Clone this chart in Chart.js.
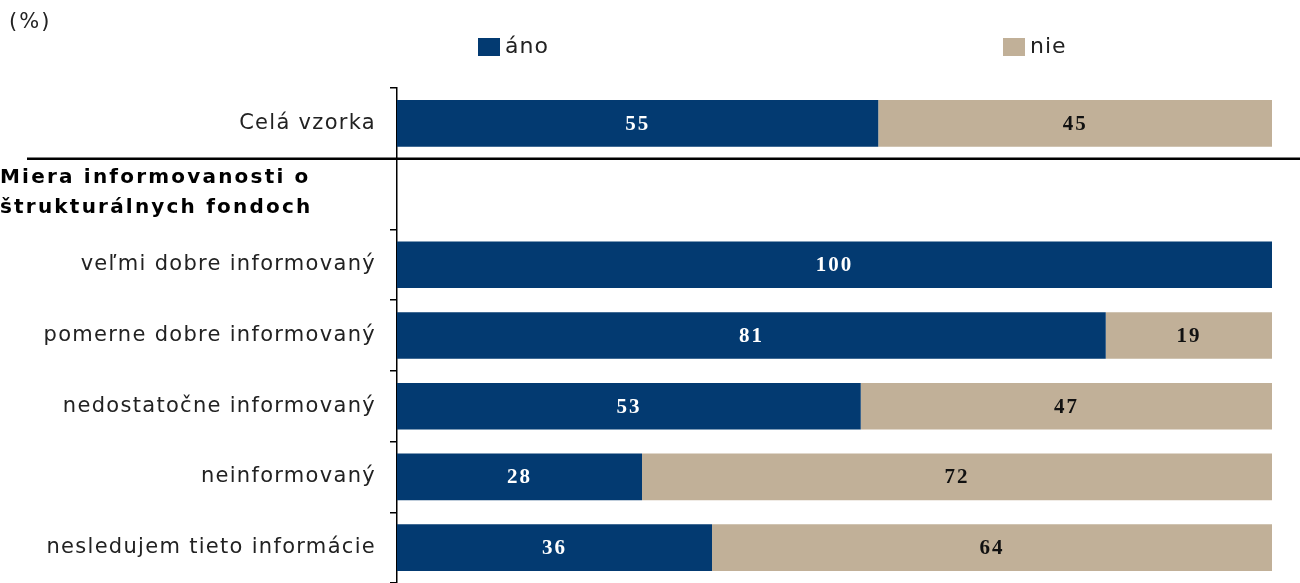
<!DOCTYPE html>
<html>
<head>
<meta charset="utf-8">
<script src="https://cdn.jsdelivr.net/npm/chart.js@4"></script>
<style>
  html, body { margin: 0; padding: 0; background: #fff; }
  #wrap { width: 1300px; height: 583px; position: relative; }
</style>
</head>
<body>
<div id="wrap"><canvas id="infoChart" width="1300" height="583"></canvas></div>
<script>
// data
const categories = ['Celá vzorka', '', 'veľmi dobre informovaný', 'pomerne dobre informovaný',
  'nedostatočne informovaný', 'neinformovaný', 'nesledujem tieto informácie'];
const anoValues = [55, null, 100, 81, 53, 28, 36];
const nieValues = [45, null, 0, 19, 47, 72, 64];
const seriesNames = ['áno', 'nie'];
const headerLines = ['Miera informovanosti o', 'štrukturálnych fondoch'];

const NAVY = '#033a71';
const TAN = '#c1b098';

// wider text like the original (stretched Tahoma look)
const spacing = {
  id: 'spacing',
  beforeDraw(chart) { chart.ctx.letterSpacing = '1.3px'; }
};

// values in the middle of every bar piece
const valueLabels = {
  id: 'valueLabels',
  afterDatasetsDraw(chart) {
    const c = chart.ctx;
    c.save();
    c.letterSpacing = '2px';
    c.font = 'bold 21px "Liberation Serif"';
    c.textAlign = 'center';
    c.textBaseline = 'middle';
    chart.data.datasets.forEach((ds, i) => {
      chart.getDatasetMeta(i).data.forEach((bar, j) => {
        const v = ds.data[j];
        if (!v) return;
        c.fillStyle = i === 0 ? '#fff' : '#111';
        c.fillText(v, (bar.x + bar.base) / 2, bar.y + 1);
      });
    });
    c.restore();
  }
};

// legend, unit, section header and separator line
const extras = {
  id: 'extras',
  afterDraw(chart) {
    const c = chart.ctx;
    const y = chart.scales.y;
    c.save();
    c.fillStyle = '#222';
    c.textBaseline = 'middle';
    c.letterSpacing = '2px';
    c.font = '21px "DejaVu Sans"';
    c.fillText('(%)', 9, 23);

    const legendX = [478, 1003];
    c.letterSpacing = '1px';
    chart.data.datasets.forEach((ds, i) => {
      c.fillStyle = ds.backgroundColor;
      c.fillRect(legendX[i], 38, 22, 18);
      c.fillStyle = '#222';
      c.font = '22px "DejaVu Sans"';
      c.fillText(ds.label, legendX[i] + 27, 47);
    });

    const sepY = (y.getPixelForValue(0) + y.getPixelForValue(1)) / 2;
    c.strokeStyle = '#000';
    c.lineWidth = 2.5;
    c.beginPath();
    c.moveTo(27, sepY);
    c.lineTo(1300, sepY);
    c.stroke();

    const hy = y.getPixelForValue(1);
    c.fillStyle = '#000';
    c.letterSpacing = '2.2px';
    c.font = 'bold 20px "DejaVu Sans"';
    c.fillText(headerLines[0], 0, hy - 16);
    c.fillText(headerLines[1], 0, hy + 14);
    c.restore();
  }
};

const ctx = document.getElementById('infoChart').getContext('2d');
const infoChart = new Chart(ctx, {
  type: 'bar',
  data: {
    labels: categories,
    datasets: [
      { label: seriesNames[0], data: anoValues, backgroundColor: NAVY },
      { label: seriesNames[1], data: nieValues, backgroundColor: TAN }
    ]
  },
  options: {
    indexAxis: 'y',
    responsive: false,
    animation: false,
    barPercentage: 0.66,
    categoryPercentage: 1,
    layout: { padding: { top: 88, right: 28, bottom: 0, left: 0 } },
    plugins: { legend: { display: false }, tooltip: { enabled: false } },
    scales: {
      x: { stacked: true, min: 0, max: 100, display: false },
      y: {
        stacked: true,
        afterFit(scale) {
          scale.width = 397;
          scale.paddingTop = 0;
          scale.paddingBottom = 0;
        },
        border: { color: '#000', width: 1.5 },
        grid: { drawOnChartArea: false, color: '#000', tickLength: 7, lineWidth: 1.5 },
        ticks: { color: '#222', padding: 14, font: { family: 'DejaVu Sans', size: 21 } }
      }
    }
  },
  plugins: [spacing, valueLabels, extras]
});
</script>
</body>
</html>
